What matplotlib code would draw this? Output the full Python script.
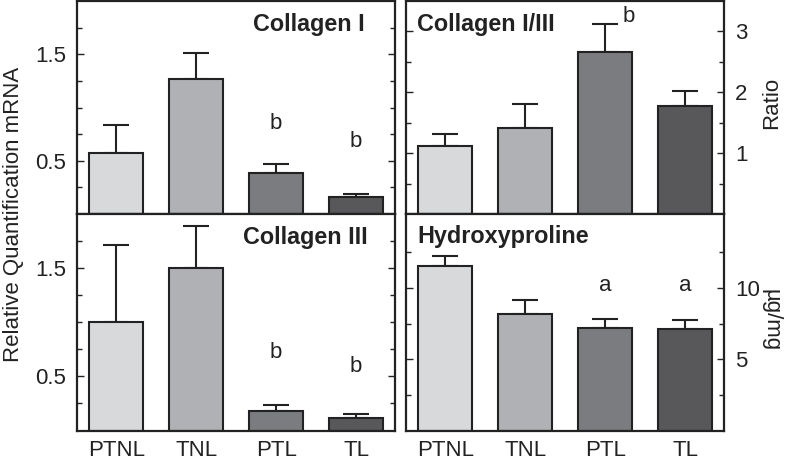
import numpy as np
import matplotlib
matplotlib.use("Agg")
from matplotlib import pyplot as plt
from matplotlib.ticker import FixedLocator

plt.rcParams['font.family'] = ['Liberation Sans', 'DejaVu Sans']
plt.rcParams['font.size'] = 16

groups = ['PTNL', 'TNL', 'PTL', 'TL']
colors = ['#d8d9db', '#b0b1b4', '#7b7c7f', '#58585a']
ink = '#222222'

col1 = [0.57, 1.27, 0.385, 0.16]
col1_err = [0.265, 0.24, 0.085, 0.03]
col1_marks = ['', '', 'b', 'b']
col1_mark_y = [0, 0, 0.85, 0.68]

col3 = [1.0, 1.5, 0.18, 0.116]
col3_err = [0.71, 0.385, 0.06, 0.032]
col3_marks = ['', '', 'b', 'b']
col3_mark_y = [0, 0, 0.72, 0.59]

ratio = [1.11, 1.41, 2.67, 1.78]
ratio_err = [0.205, 0.40, 0.46, 0.24]

hyp = [11.55, 8.2, 7.22, 7.1]
hyp_err = [0.7, 0.93, 0.63, 0.64]
hyp_marks = ['', '', 'a', 'a']
hyp_mark_y = [0, 0, 10.2, 10.2]

fig = plt.figure(figsize=(7.86, 4.62), dpi=100)
W, H = 786.0, 462.0
def box(x0, x1, ytop, ybot):
    return [x0 / W, 1 - ybot / H, (x1 - x0) / W, (ybot - ytop) / H]

ax_c1 = fig.add_axes(box(77, 395, 1, 214))
ax_c3 = fig.add_axes(box(77, 395, 214, 430.5))
ax_r = fig.add_axes(box(406, 724, 1, 214))
ax_h = fig.add_axes(box(406, 724, 214, 430.5))

x = np.arange(len(groups))

def draw(ax, vals, errs, ylim):
    ax.bar(x, vals, width=0.675, color=colors, edgecolor=ink, linewidth=1.5, zorder=2)
    ax.errorbar(x, vals, yerr=[np.zeros(len(vals)), errs], fmt='none',
                ecolor=ink, elinewidth=1.5, capsize=9.5, capthick=1.5, zorder=1)
    ax.set_xlim(-0.49, 3.485)
    ax.set_ylim(*ylim)
    for s in ax.spines.values():
        s.set_linewidth(1.6)
        s.set_color(ink)
    ax.tick_params(which='both', direction='in', colors=ink, labelcolor=ink,
                   width=1.0, pad=8)
    ax.tick_params(which='major', length=5)
    ax.tick_params(which='minor', length=3.5)
    ax.tick_params(axis='x', length=0)

for ax, vals, errs in [(ax_c1, col1, col1_err), (ax_c3, col3, col3_err)]:
    draw(ax, vals, errs, (0, 2.0))
    ax.yaxis.set_major_locator(FixedLocator([0.5, 1.5]))
    ax.yaxis.set_minor_locator(FixedLocator([0.25, 0.75, 1.0, 1.25, 1.75]))
    ax.tick_params(axis='y', which='both', left=True, right=True)

draw(ax_r, ratio, ratio_err, (0, 3.5))
ax_r.yaxis.set_major_locator(FixedLocator([1, 2, 3]))
ax_r.yaxis.set_minor_locator(FixedLocator([0.5, 1.5, 2.5]))
draw(ax_h, hyp, hyp_err, (0, 15.2))
ax_h.yaxis.set_major_locator(FixedLocator([5, 10]))
ax_h.yaxis.set_minor_locator(FixedLocator([2.5, 7.5, 12.5]))
for ax in (ax_r, ax_h):
    ax.tick_params(axis='y', which='both', left=True, right=True,
                   labelleft=False, labelright=True)

for ax in (ax_c1, ax_r):
    ax.set_xticks(x)
    ax.set_xticklabels([])
for ax in (ax_c3, ax_h):
    ax.set_xticks(x)
    ax.set_xticklabels(groups)
    ax.tick_params(axis='x', pad=7)

ax_c1.text(0.905, 0.89, 'Collagen I', transform=ax_c1.transAxes, ha='right',
           va='center', fontweight='bold', color=ink, fontsize=16.8)
ax_c3.text(0.915, 0.89, 'Collagen III', transform=ax_c3.transAxes, ha='right',
           va='center', fontweight='bold', color=ink, fontsize=16.8)
ax_r.text(0.034, 0.89, 'Collagen I/III', transform=ax_r.transAxes, ha='left',
          va='center', fontweight='bold', color=ink, fontsize=16.8)
ax_h.text(0.036, 0.895, 'Hydroxyproline', transform=ax_h.transAxes, ha='left',
          va='center', fontweight='bold', color=ink, fontsize=16.8)

for ax, marks, ys in [(ax_c1, col1_marks, col1_mark_y),
                      (ax_c3, col3_marks, col3_mark_y),
                      (ax_h, hyp_marks, hyp_mark_y)]:
    for i, (m, yy) in enumerate(zip(marks, ys)):
        if m:
            ax.text(i, yy, m, ha='center', va='center', color=ink)
ax_r.text(2.3, 3.25, 'b', ha='center', va='center', color=ink)

fig.text(0.017, 0.535, 'Relative Quantification mRNA', rotation=90,
         ha='center', va='center', color=ink)
fig.text(771.5 / W, 1 - 103 / H, 'Ratio', rotation=90, ha='center',
         va='center', color=ink)
fig.text(771.5 / W, 1 - 320 / H, 'µg/mg', rotation=270, ha='center',
         va='center', color=ink)

fig.savefig('out.png', dpi=100)
